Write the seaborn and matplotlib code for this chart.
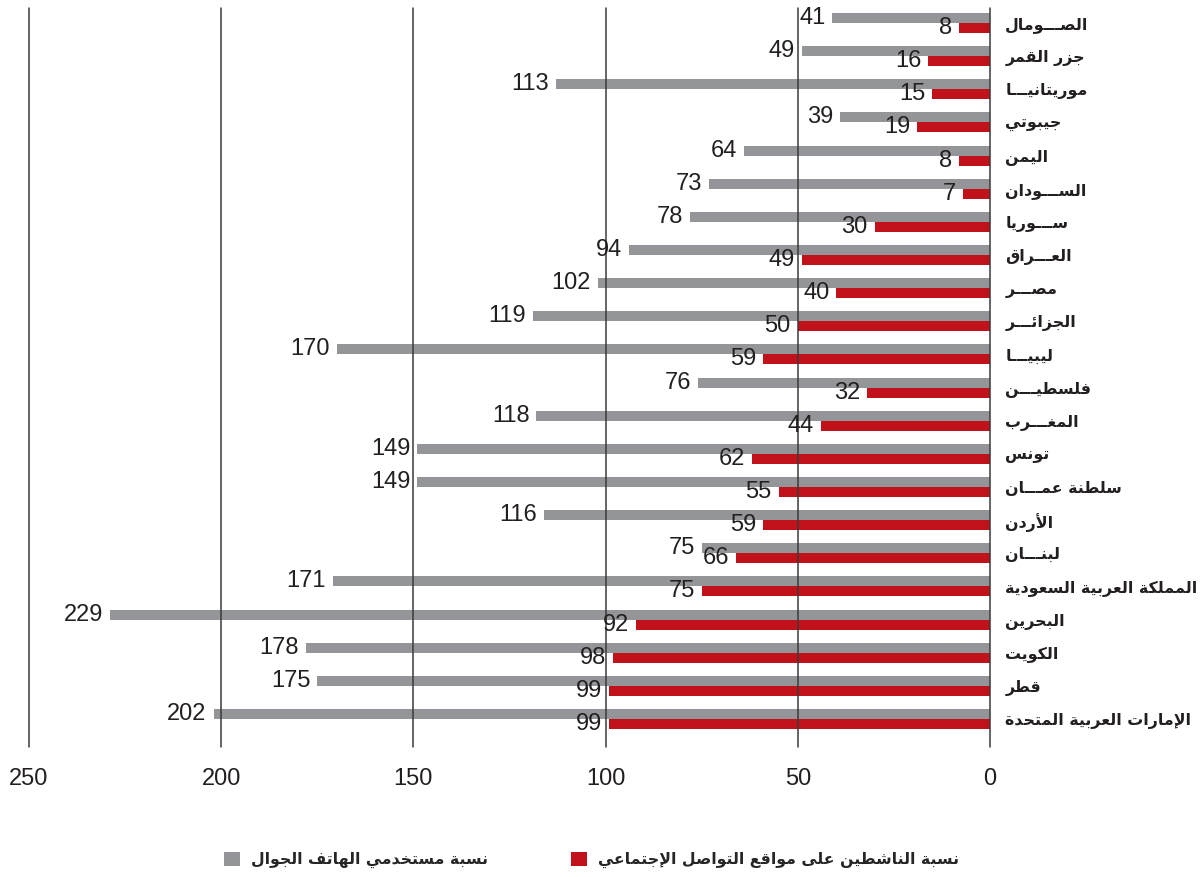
import matplotlib
matplotlib.use("Agg")
import matplotlib.pyplot as plt
from matplotlib.patches import Patch
import seaborn as sns
import pandas as pd

# ---------------- data ----------------
countries = [
    "الصـــومال", "جزر القمر", "موريتانيـــا", "جيبوتي", "اليمن",
    "الســـودان", "ســـوريا", "العـــراق", "مصـــر", "الجزائـــر",
    "ليبيـــا", "فلسطيـــن", "المغـــرب", "تونس", "سلطنة عمـــان",
    "الأردن", "لبنـــان", "المملكة العربية السعودية", "البحرين",
    "الكويت", "قطر", "الإمارات العربية المتحدة",
]
mobile_users = [41, 49, 113, 39, 64, 73, 78, 94, 102, 119, 170, 76, 118,
                149, 149, 116, 75, 171, 229, 178, 175, 202]
social_users = [8, 16, 15, 19, 8, 7, 30, 49, 40, 50, 59, 32, 44,
                62, 55, 59, 66, 75, 92, 98, 99, 99]
mobile_label = "نسبة مستخدمي الهاتف الجوال"
social_label = "نسبة الناشطين على مواقع التواصل الإجتماعي"
x_ticks = [0, 50, 100, 150, 200, 250]

GRAY = "#939598"
RED = "#C1121B"

# ------------- minimal Arabic shaping (presentation forms + RTL) -------------
FORMS = {
    '\u0621': ('\uFE80', None, None, None),
    '\u0622': ('\uFE81', '\uFE82', None, None),
    '\u0623': ('\uFE83', '\uFE84', None, None),
    '\u0624': ('\uFE85', '\uFE86', None, None),
    '\u0625': ('\uFE87', '\uFE88', None, None),
    '\u0626': ('\uFE89', '\uFE8A', '\uFE8B', '\uFE8C'),
    '\u0627': ('\uFE8D', '\uFE8E', None, None),
    '\u0628': ('\uFE8F', '\uFE90', '\uFE91', '\uFE92'),
    '\u0629': ('\uFE93', '\uFE94', None, None),
    '\u062A': ('\uFE95', '\uFE96', '\uFE97', '\uFE98'),
    '\u062B': ('\uFE99', '\uFE9A', '\uFE9B', '\uFE9C'),
    '\u062C': ('\uFE9D', '\uFE9E', '\uFE9F', '\uFEA0'),
    '\u062D': ('\uFEA1', '\uFEA2', '\uFEA3', '\uFEA4'),
    '\u062E': ('\uFEA5', '\uFEA6', '\uFEA7', '\uFEA8'),
    '\u062F': ('\uFEA9', '\uFEAA', None, None),
    '\u0630': ('\uFEAB', '\uFEAC', None, None),
    '\u0631': ('\uFEAD', '\uFEAE', None, None),
    '\u0632': ('\uFEAF', '\uFEB0', None, None),
    '\u0633': ('\uFEB1', '\uFEB2', '\uFEB3', '\uFEB4'),
    '\u0634': ('\uFEB5', '\uFEB6', '\uFEB7', '\uFEB8'),
    '\u0635': ('\uFEB9', '\uFEBA', '\uFEBB', '\uFEBC'),
    '\u0636': ('\uFEBD', '\uFEBE', '\uFEBF', '\uFEC0'),
    '\u0637': ('\uFEC1', '\uFEC2', '\uFEC3', '\uFEC4'),
    '\u0638': ('\uFEC5', '\uFEC6', '\uFEC7', '\uFEC8'),
    '\u0639': ('\uFEC9', '\uFECA', '\uFECB', '\uFECC'),
    '\u063A': ('\uFECD', '\uFECE', '\uFECF', '\uFED0'),
    '\u0640': ('\u0640', '\u0640', '\u0640', '\u0640'),
    '\u0641': ('\uFED1', '\uFED2', '\uFED3', '\uFED4'),
    '\u0642': ('\uFED5', '\uFED6', '\uFED7', '\uFED8'),
    '\u0643': ('\uFED9', '\uFEDA', '\uFEDB', '\uFEDC'),
    '\u0644': ('\uFEDD', '\uFEDE', '\uFEDF', '\uFEE0'),
    '\u0645': ('\uFEE1', '\uFEE2', '\uFEE3', '\uFEE4'),
    '\u0646': ('\uFEE5', '\uFEE6', '\uFEE7', '\uFEE8'),
    '\u0647': ('\uFEE9', '\uFEEA', '\uFEEB', '\uFEEC'),
    '\u0648': ('\uFEED', '\uFEEE', None, None),
    '\u0649': ('\uFEEF', '\uFEF0', None, None),
    '\u064A': ('\uFEF1', '\uFEF2', '\uFEF3', '\uFEF4'),
}
LAMALEF = {'\u0622': ('\uFEF5', '\uFEF6'), '\u0623': ('\uFEF7', '\uFEF8'),
           '\u0625': ('\uFEF9', '\uFEFA'), '\u0627': ('\uFEFB', '\uFEFC')}


def shape(text):
    toks, i = [], 0
    while i < len(text):
        c = text[i]
        if c == '\u0644' and i + 1 < len(text) and text[i + 1] in LAMALEF:
            toks.append(('LA', text[i + 1]))
            i += 2
        else:
            toks.append(('C', c))
            i += 1

    def joins_next(t):
        if t[0] == 'LA':
            return False
        f = FORMS.get(t[1])
        return f is not None and f[2] is not None

    def joins_prev(t):
        if t[0] == 'LA':
            return True
        f = FORMS.get(t[1])
        return f is not None and f[1] is not None

    res = []
    for k, t in enumerate(toks):
        p = k > 0 and joins_next(toks[k - 1]) and joins_prev(t)
        n = k + 1 < len(toks) and joins_next(t) and joins_prev(toks[k + 1])
        if t[0] == 'LA':
            iso, fin = LAMALEF[t[1]]
            res.append(fin if p else iso)
        elif t[1] in FORMS:
            iso, fin, ini, med = FORMS[t[1]]
            if p and n:
                res.append(med)
            elif p:
                res.append(fin)
            elif n:
                res.append(ini)
            else:
                res.append(iso)
        else:
            res.append(t[1])
    return ''.join(reversed(res))


# ---------------- plot ----------------
sns.set_theme(style="white")
plt.rcParams['font.family'] = ['Liberation Sans', 'DejaVu Sans']

df = pd.DataFrame({
    "country": countries * 2,
    "value": mobile_users + social_users,
    "series": [mobile_label] * len(countries) + [social_label] * len(countries),
})

fig = plt.figure(figsize=(12, 8.77), dpi=100)
ax = fig.add_axes([29 / 1200, 1 - 747 / 877, (990 - 29) / 1200, (747 - 8) / 877])

sns.barplot(data=df, x="value", y="country", hue="series",
            order=countries, hue_order=[mobile_label, social_label],
            palette=[GRAY, RED], orient="h", width=0.6, dodge=True,
            saturation=1, legend=False, ax=ax, linewidth=0)

ax.set_xlim(250, 0)
ax.set_ylim(len(countries) - 1 + 0.845, -0.453)
ax.set_xticks(x_ticks)
ax.set_xticklabels([str(t) for t in x_ticks])
ax.set_xlabel("")
ax.set_ylabel("")
ax.grid(axis="x", color="#3a3a3a", linewidth=1.1)
ax.grid(axis="y", visible=False)
ax.set_axisbelow(False)
for gl in ax.get_xgridlines():
    gl.set_clip_on(False)
for s in ax.spines.values():
    s.set_visible(False)

ax.yaxis.tick_right()
ax.set_yticks(range(len(countries)))
ax.set_yticklabels([shape(c) for c in countries],
                   fontdict={"family": "DejaVu Sans", "weight": "bold"})
ax.tick_params(axis="y", length=0, pad=11, labelsize=11.4, labelcolor="#231f20")
ax.tick_params(axis="x", length=0, pad=15, labelsize=17, labelcolor="#231f20")

for cont, vals in zip(ax.containers, [mobile_users, social_users]):
    ax.bar_label(cont, labels=[str(v) for v in vals], padding=5,
                 fontsize=17, color="#231f20")

handles = [Patch(facecolor=GRAY, edgecolor="none"),
           Patch(facecolor=RED, edgecolor="none")]
fig.legend(handles, [shape(mobile_label), shape(social_label)],
           loc="center", bbox_to_anchor=(0.493, 17 / 877), ncol=2,
           frameon=False, handlelength=1.0, handleheight=1.0,
           handletextpad=0.7, columnspacing=5.3,
           prop={"family": "DejaVu Sans", "weight": "bold", "size": 11.3})

fig.savefig("out.png", dpi=100)
